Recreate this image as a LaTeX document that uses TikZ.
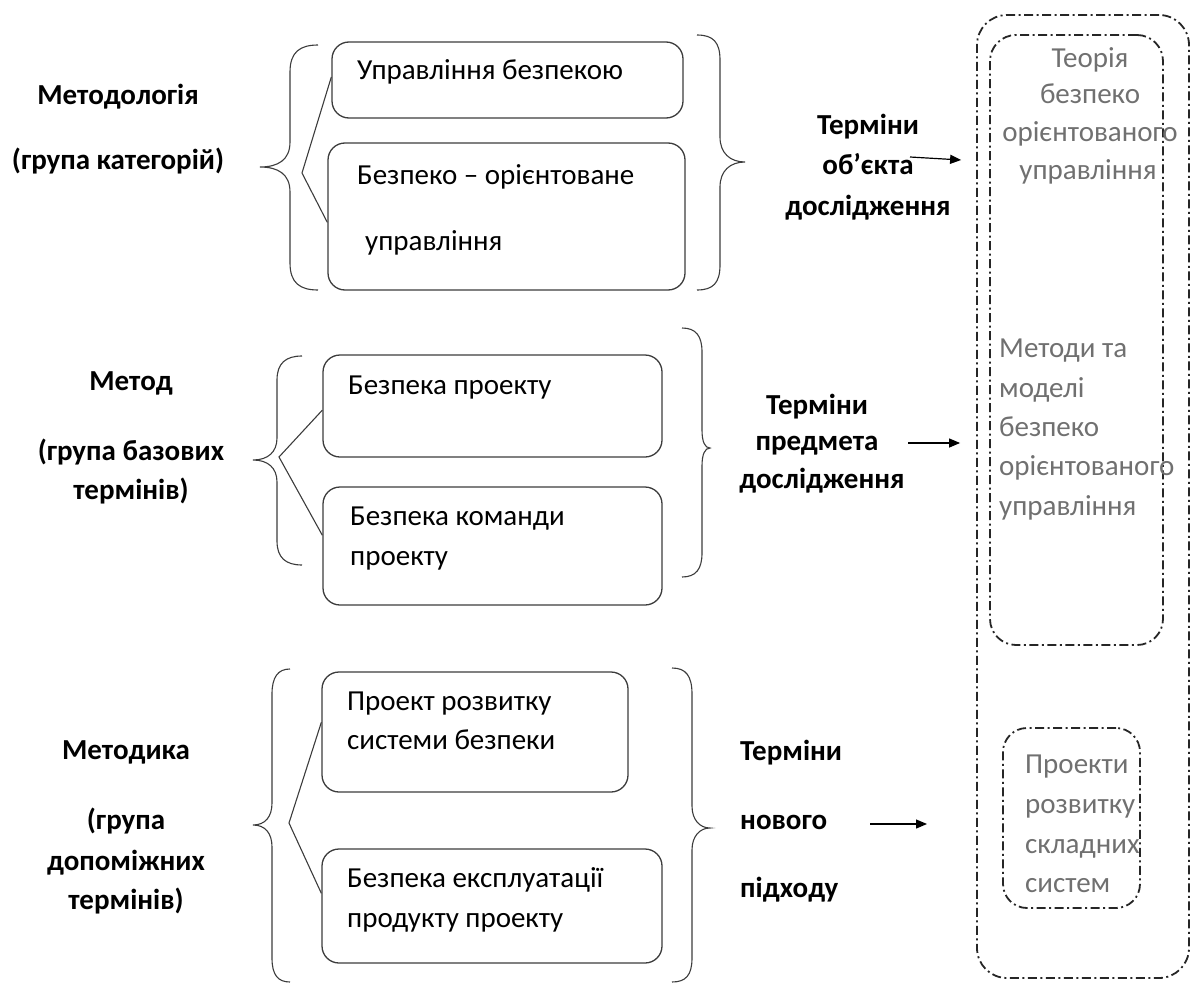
\documentclass[tikz,border=0pt]{standalone}
\usepackage{fontspec}
\setmainfont{Carlito}
\usetikzlibrary{arrows.meta,calc}
\definecolor{boxline}{RGB}{60,60,60}
\definecolor{graytext}{RGB}{112,112,112}
\tikzset{
  termbox/.style={draw=boxline,line width=1.3pt,rounded corners=17pt,minimum width=#1,inner sep=0pt},
  txt/.style={inner sep=0pt,font=\fontsize{29}{34}\selectfont,text=black},
  lbl/.style={inner sep=0pt,font=\fontsize{29}{34}\selectfont\bfseries,text=black},
  rtxt/.style={inner sep=0pt,font=\fontsize{29}{34}\selectfont,text=graytext},
  bracel/.style={draw=boxline,line width=1.1pt},
  ddot/.style={draw=black!85,line width=1.8pt,dash pattern=on 9pt off 3.5pt on 2pt off 3.5pt,inner sep=0pt},
  arr/.style={draw=black,line width=1.2pt,-{Triangle[length=11pt,width=9pt]}}
}
\begin{document}
\begin{tikzpicture}[x=1pt,y=-1pt]
\useasboundingbox (0,0) rectangle (1192,985);

% ---------- Group 1 ----------
\node[lbl,anchor=mid] (l1a) at (118,102) {Методологія};
\node[lbl,anchor=mid] (l1b) at (118,167) {(група категорій)};

\node[termbox=351pt,minimum height=76pt] (b1) at (507.5,80) {};
\node[termbox=357pt,minimum height=147pt] (b2) at (506.5,216.5) {};
\node[txt,anchor=mid west] (t1) at (357,77) {Управління безпекою};
\node[txt,anchor=mid west] (t2a) at (357,182) {Безпеко – орієнтоване};
\node[txt,anchor=mid west] (t2b) at (365,248) {управління};

\draw[bracel] (318,45) .. controls (300,45) and (290,52) .. (290,72) -- (290,142)
  .. controls (290,160) and (278,167) .. (260,167)
  .. controls (278,167) and (290,174) .. (290,192) -- (290,263)
  .. controls (290,283) and (300,290) .. (318,290);
\coordinate (apex1) at (302,173);
\draw[bracel] ($(b1.north west)!0.46!(b1.south west)$) -- (apex1) -- ($(b2.north west)!0.54!(b2.south west)$);
\draw[bracel] (697,35) .. controls (713,35) and (720,42) .. (720,60) -- (720,137)
  .. controls (720,153) and (730,162) .. (745,162)
  .. controls (730,162) and (720,171) .. (720,187) -- (720,265)
  .. controls (720,283) and (713,290) .. (697,290);

\node[lbl,anchor=mid] (r1a) at (868,132) {Терміни};
\node[lbl,anchor=mid] (r1b) at (868,172) {об’єкта};
\node[lbl,anchor=mid] (r1c) at (868,213) {дослідження};

% ---------- Group 2 ----------
\node[lbl,anchor=mid] (l2a) at (131,388) {Метод};
\node[lbl,anchor=mid] (l2b) at (131,458) {(група базових};
\node[lbl,anchor=mid] (l2c) at (131,497) {термінів)};

\node[termbox=339pt,minimum height=102pt] (b3) at (492.5,406) {};
\node[termbox=339pt,minimum height=118pt] (b4) at (492.5,546) {};
\node[txt,anchor=mid west] (t3) at (348,392) {Безпека проекту};
\node[txt,anchor=mid west] (t4a) at (350,523) {Безпека команди};
\node[txt,anchor=mid west] (t4b) at (350,563) {проекту};

\draw[bracel] (302,356) .. controls (286,356) and (277,363) .. (277,380) -- (277,438)
  .. controls (277,452) and (268,460) .. (253,460)
  .. controls (268,460) and (277,468) .. (277,482) -- (277,541)
  .. controls (277,558) and (286,565) .. (302,565);
\coordinate (apex2) at (279,457);
\draw[bracel] ($(b3.north west)!0.54!(b3.south west)$) -- (apex2) -- ($(b4.north west)!0.41!(b4.south west)$);
\draw[bracel] (682,328) .. controls (696,328) and (702,336) .. (702,352) -- (702,430)
  .. controls (702,442) and (705,448) .. (710,448)
  .. controls (705,448) and (702,454) .. (702,466) -- (702,553)
  .. controls (702,569) and (696,577) .. (682,577);

\node[lbl,anchor=mid] (r2a) at (817,412) {Терміни};
\node[lbl,anchor=mid] (r2b) at (817,448) {предмета};
\node[lbl,anchor=mid] (r2c) at (822,486) {дослідження};

% ---------- Group 3 ----------
\node[lbl,anchor=mid] (l3a) at (126,757) {Методика};
\node[lbl,anchor=mid] (l3b) at (126,827) {(група};
\node[lbl,anchor=mid] (l3c) at (126,868) {допоміжних};
\node[lbl,anchor=mid] (l3d) at (126,907) {термінів)};

\node[termbox=306pt,minimum height=120pt] (b5) at (475,732) {};
\node[termbox=340pt,minimum height=114pt] (b6) at (492,906) {};
\node[txt,anchor=mid west] (t5a) at (347,708) {Проект розвитку};
\node[txt,anchor=mid west] (t5b) at (347,747) {системи безпеки};
\node[txt,anchor=mid west] (t6a) at (347,885) {Безпека експлуатації};
\node[txt,anchor=mid west] (t6b) at (347,925) {продукту проекту};

\draw[bracel] (290,669) .. controls (278,669) and (272,677) .. (272,694) -- (272,803)
  .. controls (272,817) and (265,825) .. (253,825)
  .. controls (265,825) and (272,833) .. (272,847) -- (272,958)
  .. controls (272,975) and (278,982) .. (290,982);
\coordinate (apex3) at (289,823);
\draw[bracel] ($(b5.north west)!0.42!(b5.south west)$) -- (apex3) -- ($(b6.north west)!0.39!(b6.south west)$);
\draw[bracel] (672,668) .. controls (686,668) and (692,676) .. (692,694) -- (692,806)
  .. controls (692,820) and (700,828) .. (710,828)
  .. controls (700,828) and (692,836) .. (692,850) -- (692,958)
  .. controls (692,975) and (686,982) .. (672,982);

\node[lbl,anchor=mid west] (r3a) at (740,758) {Терміни};
\node[lbl,anchor=mid west] (r3b) at (740,827) {нового};
\node[lbl,anchor=mid west] (r3c) at (740,895) {підходу};

% ---------- Right containers ----------
\node[ddot,rounded corners=30pt,minimum width=212pt,minimum height=963pt] (outer) at (1083,496.5) {};
\node[ddot,rounded corners=26pt,minimum width=173pt,minimum height=610pt] (inner) at (1076.5,340) {};
\node[ddot,rounded corners=24pt,minimum width=137pt,minimum height=180pt] (small) at (1071.5,818) {};

\node[rtxt,anchor=mid] (g1a) at (1090,65) {Теорія};
\node[rtxt,anchor=mid] (g1b) at (1090,101) {безпеко};
\node[rtxt,anchor=mid] (g1c) at (1090,139) {орієнтованого};
\node[rtxt,anchor=mid] (g1d) at (1088,177) {управління};

\node[rtxt,anchor=mid west] (g2a) at (999,355) {Методи та};
\node[rtxt,anchor=mid west] (g2b) at (999,395) {моделі};
\node[rtxt,anchor=mid west] (g2c) at (999,434) {безпеко};
\node[rtxt,anchor=mid west] (g2d) at (999,473) {орієнтованого};
\node[rtxt,anchor=mid west] (g2e) at (999,513) {управління};

\node[rtxt,anchor=mid west] (g3a) at (1025,771) {Проекти};
\node[rtxt,anchor=mid west] (g3b) at (1025,811) {розвитку};
\node[rtxt,anchor=mid west] (g3c) at (1025,851) {складних};
\node[rtxt,anchor=mid west] (g3d) at (1025,890) {систем};

% ---------- Arrows ----------
\coordinate (a1s) at (910,157);
\coordinate (a2s) at (908,443);
\coordinate (a3s) at (870,824);
\draw[arr] (a1s) -- ([xshift=-15pt]outer.west |- 0,160);
\draw[arr] (a2s) -- ([xshift=-16pt]outer.west |- 0,443);
\draw[arr] (a3s) -- (927,824);
\end{tikzpicture}
\end{document}
